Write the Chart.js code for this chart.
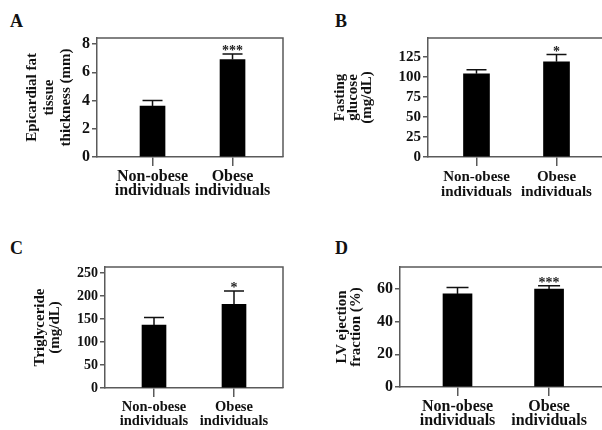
<!DOCTYPE html>
<html>
<head>
<meta charset="utf-8">
<script src="https://cdn.jsdelivr.net/npm/chart.js@4.4.0/dist/chart.umd.min.js"></script>
<style>
  html, body { margin: 0; padding: 0; background: #fff; width: 602px; height: 430px; overflow: hidden; }
  canvas { position: absolute; }
  .letter { position: absolute; font: bold 18px 'Liberation Serif', serif; line-height: 18px; color: #111; }
</style>
</head>
<body>
<div class="letter" style="left:10px;top:12px">A</div>
<div class="letter" style="left:335px;top:12px">B</div>
<div class="letter" style="left:10px;top:239px">C</div>
<div class="letter" style="left:335px;top:239px">D</div>

<canvas id="chartA" width="300" height="215" style="left:0;top:0"></canvas>
<canvas id="chartB" width="320" height="215" style="left:300px;top:0"></canvas>
<canvas id="chartC" width="300" height="215" style="left:0;top:215px"></canvas>
<canvas id="chartD" width="320" height="215" style="left:300px;top:215px"></canvas>

<script>
// --- data ---
const groups = [['Non-obese', 'individuals'], ['Obese', 'individuals']];

const fatMean = [3.6, 6.9];        // epicardial fat tissue thickness (mm)
const fatUpper = [4.0, 7.3];
const fatStars = ['', '***'];

const glucoseMean = [104, 119];    // fasting glucose (mg/dL)
const glucoseUpper = [109, 128];
const glucoseStars = ['', '*'];

const tgMean = [137, 182];         // triglyceride (mg/dL)
const tgUpper = [153, 211];
const tgStars = ['', '*'];

const efMean = [57, 60];           // LV ejection fraction (%)
const efUpper = [61, 62];
const efStars = ['', '***'];

const AXIS = '#5a5a5a';
const SERIF = "'Liberation Serif', 'Times New Roman', serif";

// error bars, significance stars and the box frame
const errorBarPlugin = {
    id: 'errorBars',
    afterDatasetsDraw(chart, args, opts) {
        const { ctx, chartArea, scales } = chart;
        const y = scales.y;
        const meta = chart.getDatasetMeta(0);
        ctx.save();
        ctx.strokeStyle = '#111';
        ctx.lineWidth = 1.5;
        meta.data.forEach((bar, i) => {
            const top = y.getPixelForValue(opts.upper[i]);
            ctx.beginPath();
            ctx.moveTo(bar.x, bar.y);
            ctx.lineTo(bar.x, top);
            ctx.moveTo(bar.x - opts.cap / 2, top);
            ctx.lineTo(bar.x + opts.cap / 2, top);
            ctx.stroke();
            if (opts.stars[i]) {
                ctx.fillStyle = '#222';
                ctx.font = 'bold 14px ' + SERIF;
                ctx.textAlign = 'center';
                ctx.textBaseline = 'alphabetic';
                ctx.fillText(opts.stars[i], bar.x, top + 1);
            }
        });
        // top and right sides of the box
        ctx.strokeStyle = AXIS;
        ctx.lineWidth = 1.5;
        ctx.beginPath();
        ctx.moveTo(chartArea.left, chartArea.top);
        ctx.lineTo(chartArea.right, chartArea.top);
        ctx.lineTo(chartArea.right, chartArea.bottom);
        ctx.stroke();
        ctx.restore();
    }
};

function makePanel(id, mean, upper, stars, p) {
    const ctx = document.getElementById(id).getContext('2d');
    return new Chart(ctx, {
        type: 'bar',
        data: {
            datasets: [{
                data: mean.map((v, i) => ({ x: i + 1, y: v })),
                backgroundColor: '#000',
                borderWidth: 0,
                barThickness: p.bar
            }]
        },
        plugins: [errorBarPlugin],
        options: {
            responsive: false,
            animation: false,
            layout: { padding: { left: 0, right: p.padRight, top: p.top, bottom: 0 } },
            plugins: {
                legend: { display: false },
                tooltip: { enabled: false },
                errorBars: { upper: upper, stars: stars, cap: p.cap }
            },
            scales: {
                x: {
                    type: 'linear',
                    offset: false,
                    min: p.xMin,
                    max: p.xMax,
                    afterBuildTicks: s => { s.ticks = [{ value: 1 }, { value: 2 }]; },
                    afterFit: s => { s.height = p.xHeight; },
                    ticks: {
                        callback: (v, i) => groups[i],
                        font: { family: SERIF, size: p.xFont, weight: 'bold', lineHeight: p.xLine },
                        color: '#111',
                        padding: p.xPad,
                        maxRotation: 0,
                        autoSkip: false
                    },
                    grid: { offset: false, drawOnChartArea: false, tickLength: 9, color: AXIS, lineWidth: 1.5 },
                    border: { color: AXIS, width: 1.5 }
                },
                y: {
                    min: 0,
                    max: p.yMax,
                    afterFit: s => { s.width = p.left; },
                    ticks: {
                        stepSize: p.step,
                        includeBounds: false,
                        font: { family: SERIF, size: p.tickFont, weight: 'bold' },
                        color: '#111',
                        padding: 2
                    },
                    grid: { drawOnChartArea: false, tickLength: 5, color: AXIS, lineWidth: 1.5 },
                    border: { color: AXIS, width: 1.5 },
                    title: {
                        display: true,
                        text: p.title,
                        color: '#111',
                        font: { family: SERIF, size: 15, weight: 'bold', lineHeight: p.titleLine },
                        padding: { top: p.titlePad, bottom: 0 }
                    }
                }
            }
        }
    });
}

makePanel('chartA', fatMean, fatUpper, fatStars, {
    left: 97, padRight: 17, top: 38, xHeight: 58, xMin: 0.306, xMax: 2.631,
    yMax: 8.425, step: 2, bar: 25, cap: 20, tickFont: 16, xFont: 16, xLine: 0.875, xPad: 4,
    title: ['Epicardial fat', 'tissue', 'thickness (mm)'], titleLine: 1.15, titlePad: 23
});

makePanel('chartB', glucoseMean, glucoseUpper, glucoseStars, {
    left: 128, padRight: 5, top: 38, xHeight: 58, xMin: 0.394, xMax: 2.731,
    yMax: 148.75, step: 25, bar: 26, cap: 20, tickFont: 15, xFont: 15, xLine: 1.0, xPad: 4,
    title: ['Fasting', 'glucose', '(mg/dL)'], titleLine: 0.9, titlePad: 33
});

makePanel('chartC', tgMean, tgUpper, tgStars, {
    left: 105, padRight: 17, top: 52, xHeight: 42, xMin: 0.3875, xMax: 2.6125,
    yMax: 263, step: 50, bar: 24, cap: 20, tickFont: 14, xFont: 14.5, xLine: 1.0, xPad: 2.5,
    title: ['Triglyceride', '(mg/dL)'], titleLine: 1.0, titlePad: 33
});

makePanel('chartD', efMean, efUpper, efStars, {
    left: 100, padRight: 5, top: 52, xHeight: 43, xMin: 0.372, xMax: 2.72,
    yMax: 73.5, step: 20, bar: 29, cap: 22, tickFont: 16, xFont: 16, xLine: 0.875, xPad: 4,
    title: ['LV ejection', 'fraction (%)'], titleLine: 0.95, titlePad: 35
});
</script>
</body>
</html>
